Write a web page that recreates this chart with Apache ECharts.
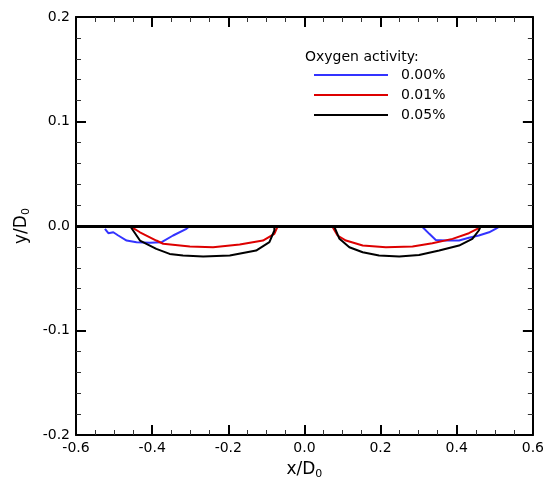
<!DOCTYPE html>
<html><head><meta charset="utf-8">
<script src="https://cdn.jsdelivr.net/npm/echarts@6/dist/echarts.min.js"></script>
<style>html,body{margin:0;padding:0;background:#fff}#c{width:547px;height:493px}</style>
</head><body><div id="c"></div>
<script>
const seriesNames = ['0.00%', '0.01%', '0.05%'];
const seriesColors = ['#3333ff', '#dd0000', '#000000'];
// each series: left branch, null break, right branch  [x/D0, y/D0]
const blue = [[-0.524,-0.0027],[-0.515,-0.0069],[-0.502,-0.006],[-0.489,-0.0091],[-0.467,-0.0139],[-0.441,-0.0155],[-0.406,-0.0161],[-0.375,-0.0155],[-0.345,-0.0091],[-0.310,-0.0027],[-0.301,0],
  null,
  [0.310,-0.001],[0.328,-0.0075],[0.345,-0.0133],[0.371,-0.0139],[0.406,-0.0139],[0.432,-0.0113],[0.458,-0.0091],[0.485,-0.006],[0.502,-0.0027],[0.515,0]];
const red = [[-0.454,-0.001],[-0.432,-0.006],[-0.389,-0.0139],[-0.371,-0.017],[-0.301,-0.0197],[-0.240,-0.0203],[-0.170,-0.0177],[-0.109,-0.0139],[-0.079,-0.0075],[-0.070,0],
  null,
  [0.074,-0.001],[0.087,-0.0091],[0.109,-0.0139],[0.153,-0.0187],[0.214,-0.0203],[0.284,-0.0197],[0.336,-0.0165],[0.389,-0.0123],[0.432,-0.0069],[0.454,-0.0027],[0.460,0]];
const black = [[-0.458,0],[-0.432,-0.0139],[-0.389,-0.0219],[-0.354,-0.0267],[-0.319,-0.0283],[-0.266,-0.0293],[-0.196,-0.0283],[-0.127,-0.0235],[-0.092,-0.0155],[-0.079,-0.0043],[-0.079,0],
  null,
  [0.079,-0.001],[0.092,-0.0123],[0.118,-0.0203],[0.153,-0.0251],[0.196,-0.0283],[0.249,-0.0293],[0.301,-0.0277],[0.354,-0.0235],[0.406,-0.0187],[0.441,-0.0123],[0.458,-0.0043],[0.463,0]];
const seriesData = [blue, red, black];
const xTicks = [-0.6,-0.4,-0.2,0.0,0.2,0.4,0.6];
const yTicks = [-0.2,-0.1,0.0,0.1,0.2];

const font = 'DejaVu Sans';
const chart = echarts.init(document.getElementById('c'));
function axisCommon(show, minorSplit){
  return {
    axisLine:{show:true, onZero:false, lineStyle:{color:'#000', width:2}},
    axisTick:{show:true, inside:true, length:10, lineStyle:{color:'#000', width:2}},
    minorTick:{show:true, splitNumber:minorSplit, length:5, lineStyle:{color:'#333', width:1}},
    splitLine:{show:false},
    axisLabel:{show:show, color:'#000', fontFamily:font, fontSize:14}
  };
}
const series = seriesData.map((d,i)=>({
  name: seriesNames[i], type:'line', data:d, xAxisIndex:0, yAxisIndex:0,
  showSymbol:false, symbol:'none', connectNulls:false,
  lineStyle:{color:seriesColors[i], width:2}, itemStyle:{color:seriesColors[i]},
  animation:false, z: 3
}));
series[0].markLine = {silent:true, symbol:'none', label:{show:false},
  lineStyle:{color:'#000', width:3, type:'solid'}, data:[{yAxis:0}], animation:false};

chart.setOption({
  animation:false,
  grid:{left:76, right:13, top:17, bottom:58},
  title:{text:'Oxygen activity:', left:305, top:50, padding:0, textStyle:{fontFamily:font, fontSize:14, fontWeight:'normal', color:'#000'}},
  legend:{data:seriesNames, orient:'vertical', left:314, top:68, padding:0, itemWidth:74, itemHeight:2, itemGap:6, icon:'rect',
    textStyle:{fontFamily:font, fontSize:14, color:'#000', padding:[0,0,0,8]}},
  xAxis:[
    Object.assign({type:'value', min:-0.6, max:0.6, interval:0.2, position:'bottom',
      name:'x/D{s|0}', nameLocation:'middle', nameGap:25,
      nameTextStyle:{fontFamily:font, fontSize:17, color:'#000', rich:{s:{fontSize:11, fontFamily:font, color:'#000', padding:[9,0,0,0]}}},
    }, axisCommon(true, 4), {axisLabel:{color:'#000', fontFamily:font, fontSize:14, margin:6, formatter:v=>xTicks.includes(+v.toFixed(1))? v.toFixed(1):''}}),
    Object.assign({type:'value', min:-0.6, max:0.6, interval:0.2, position:'top'}, axisCommon(false, 4))
  ],
  yAxis:[
    Object.assign({type:'value', min:-0.2, max:0.2, interval:0.1, position:'left',
      name:'y/D{s|0}', nameLocation:'middle', nameGap:30, nameRotate:90,
      nameTextStyle:{fontFamily:font, fontSize:17, color:'#000', rich:{s:{fontSize:11, fontFamily:font, color:'#000', padding:[9,0,0,0]}}},
    }, axisCommon(true, 5), {axisLabel:{color:'#000', fontFamily:font, fontSize:14, margin:6, formatter:v=>yTicks.includes(+v.toFixed(1))? v.toFixed(1):''}}),
    Object.assign({type:'value', min:-0.2, max:0.2, interval:0.1, position:'right'}, axisCommon(false, 5))
  ],
  series: series
});
</script>
</body></html>
